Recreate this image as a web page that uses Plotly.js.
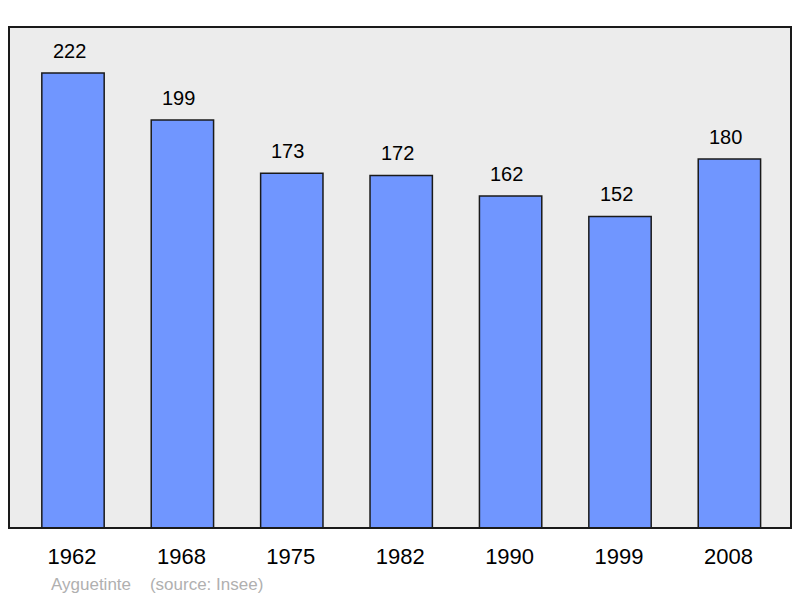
<!DOCTYPE html>
<html>
<head>
<meta charset="utf-8">
<script src="https://cdn.plot.ly/plotly-3.0.1.min.js"></script>
<style>html,body{margin:0;padding:0;background:#fff;}#chart{width:800px;height:598px;}</style>
</head>
<body>
<div id="chart"></div>
<script>
var years = ["1962", "1968", "1975", "1982", "1990", "1999", "2008"];
var population = [222, 199, 173, 172, 162, 152, 180];
var footerText = "Ayguetinte\u00a0\u00a0\u00a0\u00a0(source: Insee)";

var xpos = years.map(function (_, i) { return i; });

var trace = {
  type: "bar",
  x: xpos,
  y: population,
  width: 0.57,
  marker: { color: "#7096ff", line: { color: "#1a1a1a", width: 1.5 } },
  hoverinfo: "none"
};

var annotations = population.map(function (v, i) {
  return {
    x: xpos[i], y: v, xref: "x", yref: "y",
    text: String(v), showarrow: false,
    yanchor: "bottom", yshift: 9, xshift: -4,
    font: { family: "Liberation Sans, Arial, sans-serif", size: 20, color: "#000" }
  };
});
annotations.push({
  x: (49 - 9) / 782, y: -(584 - 528) / (528 - 27), xref: "paper", yref: "paper",
  text: footerText, showarrow: false, xanchor: "left", yanchor: "middle",
  font: { family: "Liberation Sans, Arial, sans-serif", size: 17, color: "#b0b0b0" }
});

var layout = {
  width: 800, height: 598,
  margin: { l: 9, r: 9, t: 27, b: 70, pad: 0 },
  paper_bgcolor: "#ffffff",
  plot_bgcolor: "#ececec",
  showlegend: false,
  xaxis: {
    range: [-0.585, 6.563],
    tickmode: "array", tickvals: xpos, ticktext: years,
    showgrid: false, zeroline: false, showline: false,
    ticks: "", ticklabelstandoff: 13, ticklabelshift: -1,
    tickfont: { family: "Liberation Sans, Arial, sans-serif", size: 22, color: "#000" },
    fixedrange: true
  },
  yaxis: {
    range: [0, 244.4],
    showgrid: false, zeroline: false, showline: false,
    showticklabels: false, ticks: "", fixedrange: true
  },
  shapes: [{
    type: "rect", xref: "paper", yref: "paper", x0: 0, x1: 1, y0: 0, y1: 1,
    line: { color: "#1a1a1a", width: 2 }, fillcolor: "rgba(0,0,0,0)", layer: "above"
  }],
  annotations: annotations
};

Plotly.newPlot("chart", [trace], layout, { staticPlot: true, displayModeBar: false });
</script>
</body>
</html>
